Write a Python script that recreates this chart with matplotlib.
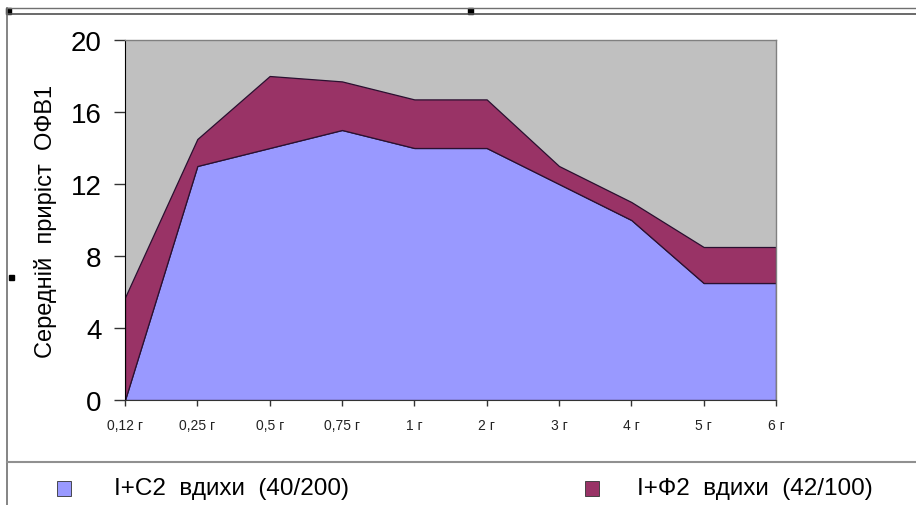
import matplotlib.pyplot as plt
from matplotlib.lines import Line2D
from matplotlib.patches import Rectangle

periods = ['0,12 г', '0,25 г', '0,5 г', '0,75 г', '1 г', '2 г', '3 г', '4 г', '5 г', '6 г']
c2 = [0, 13, 14, 15, 14, 14, 12, 10, 6.5, 6.5]           # I+С2 вдихи (40/200)
f2_extra = [5.7, 1.5, 4.0, 2.7, 2.7, 2.7, 1.0, 1.0, 2.0, 2.0]  # I+Ф2 вдихи (42/100), над С2
names = ['I+С2  вдихи  (40/200)', 'I+Ф2  вдихи  (42/100)']
colors = ['#9999FF', '#993366']

plt.rcParams['font.family'] = ['Liberation Sans', 'DejaVu Sans']

fig = plt.figure(figsize=(9.16, 5.06), dpi=100)
W, H = 916, 506

ax = fig.add_axes([125 / W, 1 - 401 / H, (776 - 125) / W, (401 - 41) / H])
ax.set_facecolor('#C0C0C0')
x = list(range(len(periods)))
ax.stackplot(x, c2, f2_extra, colors=colors, edgecolor='#2a1030', linewidth=0.9)

ax.set_xlim(0, len(periods) - 1)
ax.set_ylim(0, 20)
ax.set_yticks([0, 4, 8, 12, 16, 20])
ax.set_xticks(x)
ax.set_xticklabels(periods, fontsize=10, color='#222222')
ax.tick_params(axis='y', labelsize=20, length=8, width=1, pad=9, color='#333333')
ax.tick_params(axis='x', length=4, width=1, pad=9, color='#333333')
ax.set_ylabel('Середній  приріст  ОФВ1', fontsize=17, labelpad=10)

for side in ['top', 'right']:
    ax.spines[side].set_color('#808080')
    ax.spines[side].set_linewidth(1)
ax.spines['left'].set_color('black')
ax.spines['bottom'].set_color('#333333')

# рамка навколо діаграми
def fig_line(xs, ys, **kw):
    fig.add_artist(Line2D([v / W for v in xs], [1 - v / H for v in ys],
                          transform=fig.transFigure, **kw))

fig_line([7, W], [9, 9], color='#707070', lw=1)
fig_line([7, W], [15, 15], color='#505050', lw=1.2)
fig_line([7, 7], [9, H], color='#707070', lw=1.2)
fig_line([7, W], [463, 463], color='#909090', lw=1.5)
for px, py in [(8, 12), (471, 12), (11, 278)]:
    fig.add_artist(Rectangle(((px - 2.5) / W, 1 - (py + 2.5) / H), 5 / W, 5 / H,
                             transform=fig.transFigure, color='black'))

# легенда
for (sx, tx), name, col in zip([(57, 114), (585, 637)], names, colors):
    fig.add_artist(Rectangle((sx / W, 1 - 497 / H), 14 / W, 15 / H,
                             transform=fig.transFigure, facecolor=col,
                             edgecolor='#333333', lw=0.6))
    fig.text(tx / W, 1 - 489 / H, name, fontsize=17.5, va='center', ha='left')

fig.savefig('out.png', dpi=100)
